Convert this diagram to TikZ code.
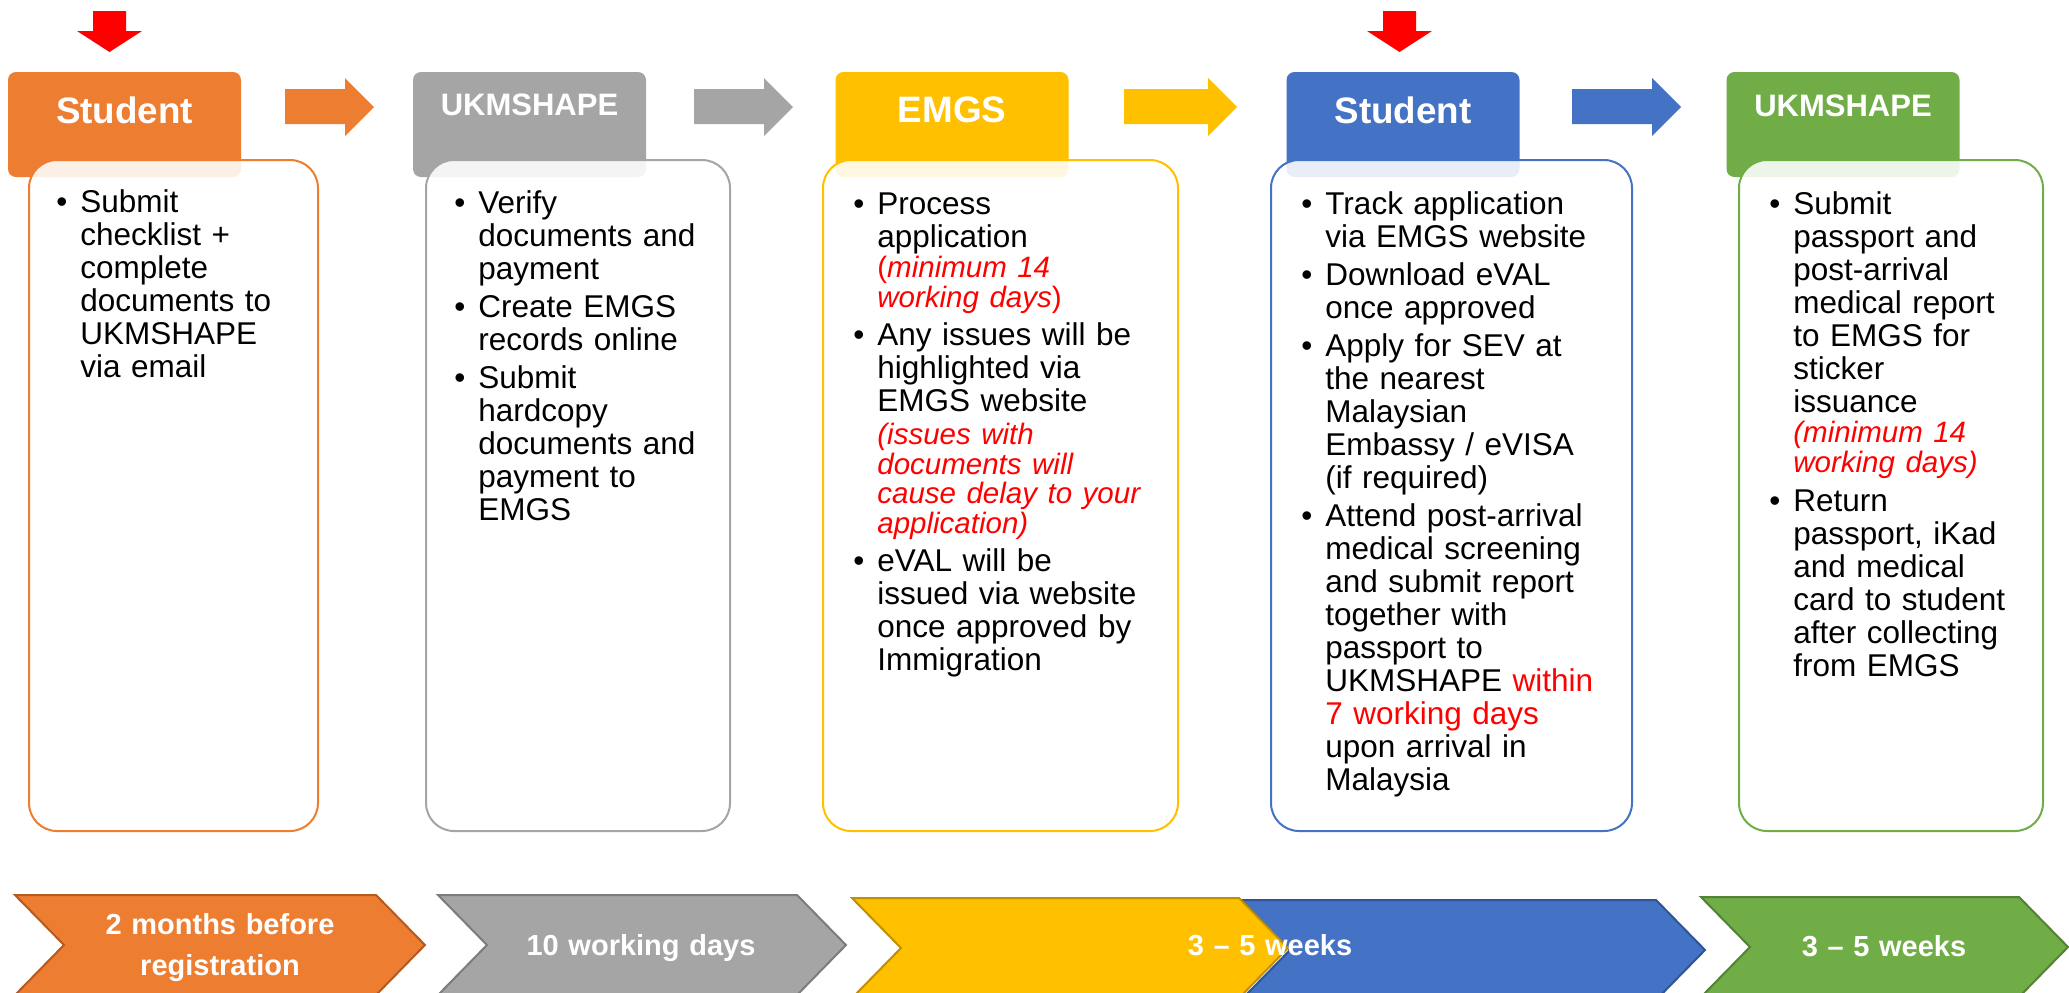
\documentclass[tikz,border=0pt]{standalone}
\usepackage{fontspec}
\setmainfont{Liberation Sans}
\definecolor{cOr}{HTML}{ED7D31}
\definecolor{cGr}{HTML}{A5A5A5}
\definecolor{cYe}{HTML}{FFC000}
\definecolor{cBl}{HTML}{4472C4}
\definecolor{cGn}{HTML}{70AD47}
\definecolor{dOr}{HTML}{B5591F}
\definecolor{dGr}{HTML}{7C7C7C}
\definecolor{dYe}{HTML}{BF9000}
\definecolor{dBl}{HTML}{2F5597}
\definecolor{dGn}{HTML}{548235}
\definecolor{cRed}{HTML}{FF0000}
\newcommand\bul{\leavevmode\llap{\textbullet\hspace{6.5pt}}}
\newcommand\rsz{\fontsize{14.75pt}{16.5pt}\selectfont}
\newcommand\blkarrow[3]{\fill[#3] (#1,89) -- ({#2-29},89) -- ({#2-29},78) -- (#2,107) -- ({#2-29},136) -- ({#2-29},124) -- (#1,124) -- cycle;}
\newcommand\redmarker[1]{\fill[cRed] ({#1-16.5},11) -- ({#1+16.5},11) -- ({#1+16.5},31) -- ({#1+32.5},31) -- (#1,52) -- ({#1-32.5},31) -- ({#1-16.5},31) -- cycle;}
\newcommand\chevron[5]{\filldraw[fill=#4, draw=#5, line width=1pt, line join=miter] (#1,#3) -- (#2,#3) -- ({#2+49},{#3+50}) -- (#2,{#3+100}) -- (#1,{#3+100}) -- ({#1+49},{#3+50}) -- cycle;}
\tikzset{
  hdr/.style={rounded corners=4pt, inner sep=0pt, draw=none, minimum height=52.5pt, minimum width=116.5pt},
  bodybox/.style={rounded corners=14pt, fill=white, fill opacity=0.88, line width=1pt, inner sep=0pt, minimum height=335.5pt},
  htitle/.style={text=white, font=\bfseries\fontsize{18.4pt}{20pt}\selectfont, anchor=base, inner sep=0pt},
  hsmall/.style={text=white, font=\bfseries\fontsize{15.5pt}{18pt}\selectfont, anchor=base, inner sep=0pt},
  btext/.style={anchor=base west, inner sep=0pt, text width=220pt, align=left, font=\fontsize{15.75pt}{16.5pt}\selectfont},
  ctext/.style={text=white, font=\bfseries\fontsize{14.5pt}{20.5pt}\selectfont, inner sep=0pt, text width=200pt, align=center, anchor=base},
}
\begin{document}
\begin{tikzpicture}[x=0.5pt,y=-0.5pt]
\useasboundingbox (0,0) rectangle (2069,992);
\fill[white] (0,0) rectangle (2069,992);

% red markers
\redmarker{109.5}
\redmarker{1399.5}

% block arrows between columns
\blkarrow{285}{374}{cOr}
\blkarrow{694}{793}{cGr}
\blkarrow{1124}{1237}{cYe}
\blkarrow{1572}{1681}{cBl}

% headers
\node[hdr, fill=cOr] (h1) at (124.5,124.5) {};
\node[hdr, fill=cGr] (h2) at (529.5,124.5) {};
\node[hdr, fill=cYe] (h3) at (952,124.5) {};
\node[hdr, fill=cBl] (h4) at (1403,124.5) {};
\node[hdr, fill=cGn] (h5) at (1843,124.5) {};

% bodies
\node[bodybox, draw=cOr, minimum width=144.5pt] (b1) at (173.5,495.5) {};
\node[bodybox, draw=cGr, minimum width=152pt] (b2) at (578,495.5) {};
\node[bodybox, draw=cYe, minimum width=177.5pt] (b3) at (1000.5,495.5) {};
\node[bodybox, draw=cBl, minimum width=180.5pt] (b4) at (1451.5,495.5) {};
\node[bodybox, draw=cGn, minimum width=152pt] (b5) at (1891,495.5) {};

% titles
\node[htitle] (t1) at (124.5,123) {Student};
\node[hsmall] (t2) at (529.5,115) {UKMSHAPE};
\node[htitle] (t3) at (952,122) {EMGS};
\node[htitle] (t4) at (1403,123) {Student};
\node[hsmall] (t5) at (1843,116) {UKMSHAPE};

% texts
\node[btext] (x1) at (80,212) {\bul Submit\\ checklist +\\ complete\\ documents to\\ UKMSHAPE\\ via email};
\node[btext] (x2) at (478,213) {\bul Verify\\ documents and\\ payment\\[2.5pt] \bul Create EMGS\\ records online\\[2.5pt] \bul Submit\\ hardcopy\\ documents and\\ payment to\\ EMGS};
\node[btext] (x3) at (877,214) {\bul Process\\ application\\[-1.1pt] {\rsz\color{cRed}(\itshape minimum 14\\[-1.7pt] working days\upshape)}\\[2.5pt] \bul Any issues will be\\ highlighted via\\ EMGS website\\ {\rsz\color{cRed}\itshape (issues with\\[-1.7pt] documents will\\[-1.7pt] cause delay to your\\[-1.7pt] application)}\\[2.5pt] \bul eVAL will be\\ issued via website\\ once approved by\\ Immigration};
\node[btext] (x4) at (1325,214) {\bul Track application\\ via EMGS website\\[2.5pt] \bul Download eVAL\\ once approved\\[2.5pt] \bul Apply for SEV at\\ the nearest\\ Malaysian\\ Embassy / eVISA\\ (if required)\\[2.5pt] \bul Attend post-arrival\\ medical screening\\ and submit report\\ together with\\ passport to\\ UKMSHAPE {\color{cRed}within}\\ {\color{cRed}7 working days}\\ upon arrival in\\ Malaysia};
\node[btext] (x5) at (1793,214) {\bul Submit\\ passport and\\ post-arrival\\ medical report\\ to EMGS for\\ sticker\\ issuance\\[-1.1pt] {\rsz\color{cRed}\itshape (minimum 14\\[-1.7pt] working days)}\\[2.8pt] \bul Return\\ passport, iKad\\ and medical\\ card to student\\ after collecting\\ from EMGS};

% timeline chevrons
\chevron{15}{376}{895}{cOr}{dOr}
\chevron{438}{797}{895}{cGr}{dGr}
\chevron{1241}{1656}{900}{cBl}{dBl}
\chevron{852}{1239}{898}{cYe}{dYe}
\chevron{1701}{2019}{897}{cGn}{dGn}

\node[ctext] (c1) at (220,934) {2 months before\\ registration};
\node[ctext] (c2) at (641,955) {10 working days};
\node[ctext] (c3) at (1270,955) {3 – 5 weeks};
\node[ctext] (c4) at (1884,956) {3 – 5 weeks};
\end{tikzpicture}
\end{document}
